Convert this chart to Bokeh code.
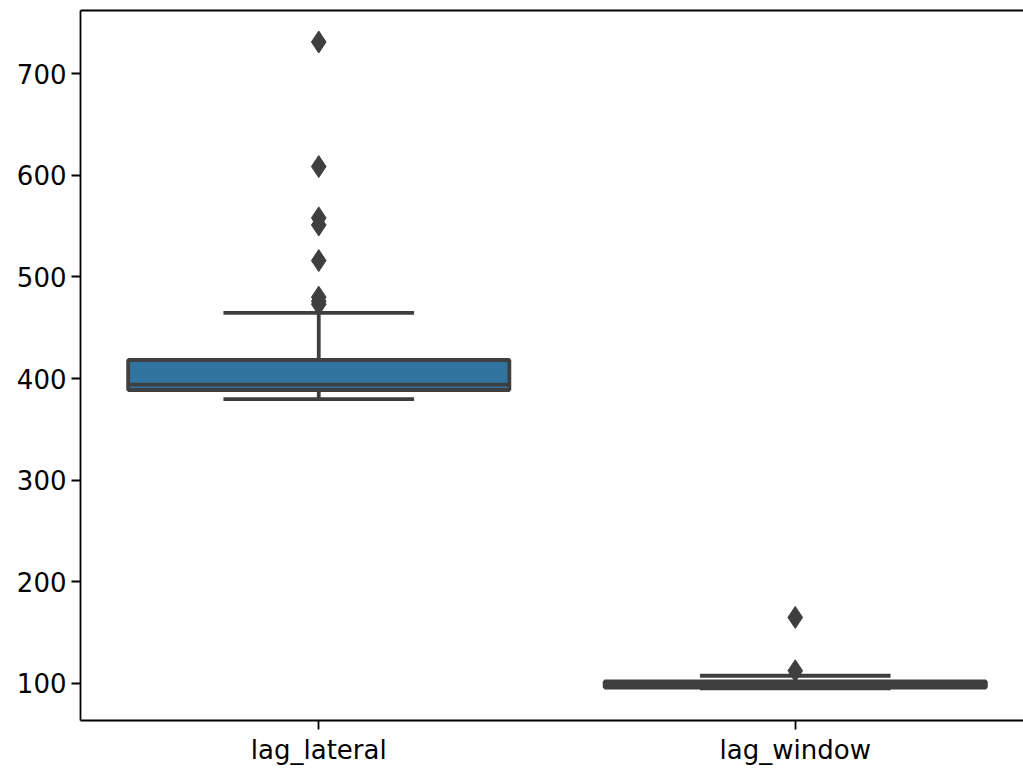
from bokeh.plotting import figure
from bokeh.models import Range1d, FixedTicker, ColumnDataSource, LinearAxis
from bokeh.embed import file_html
from bokeh.resources import INLINE

categories = ["lag_lateral", "lag_window"]
positions = [0, 1]
q1 = [388.7, 96.0]
median = [394.0, 99.0]
q3 = [418.2, 102.0]
whisker_low = [379.7, 95.3]
whisker_high = [464.6, 107.6]
fill_colors = ["#3274a1", "#e1812c"]
outliers_lateral = [731, 608.5, 558, 551, 516, 480, 476, 473]
outliers_window = [165, 112.5]

line_col = "#3f3f3f"
box_w = 0.8
cap_w = 0.4
lw = 3.8

p = figure(width=1023, height=772, output_backend="svg", toolbar_location=None,
           x_range=Range1d(-0.5, 1.479), y_range=Range1d(63.6, 762.0),
           min_border_left=80, min_border_right=0, min_border_top=10, min_border_bottom=52)
p.grid.visible = False
p.background_fill_color = "white"
p.border_fill_color = "white"
p.outline_line_color = None

src = ColumnDataSource(dict(
    x=positions,
    left=[x - box_w / 2 for x in positions],
    right=[x + box_w / 2 for x in positions],
    cl=[x - cap_w / 2 for x in positions],
    cr=[x + cap_w / 2 for x in positions],
    q1=q1, q3=q3, med=median, lo=whisker_low, hi=whisker_high, fill=fill_colors,
))

# whiskers
p.segment(x0="x", y0="q3", x1="x", y1="hi", source=src, line_color=line_col, line_width=lw)
p.segment(x0="x", y0="q1", x1="x", y1="lo", source=src, line_color=line_col, line_width=lw)
# caps
p.segment(x0="cl", y0="hi", x1="cr", y1="hi", source=src, line_color=line_col, line_width=lw)
p.segment(x0="cl", y0="lo", x1="cr", y1="lo", source=src, line_color=line_col, line_width=lw)
# boxes
p.quad(left="left", right="right", bottom="q1", top="q3", source=src,
       fill_color="fill", line_color=line_col, line_width=lw)
# medians
p.segment(x0="left", y0="med", x1="right", y1="med", source=src, line_color=line_col, line_width=lw)

# outliers
ox = [0] * len(outliers_lateral) + [1] * len(outliers_window)
oy = outliers_lateral + outliers_window
p.scatter(ox, oy, marker="diamond", size=22, fill_color=line_col, line_color=line_col)

# axes
xax = p.below[0]
yax = p.left[0]
xax.ticker = FixedTicker(ticks=positions)
xax.major_label_overrides = {0: categories[0], 1: categories[1]}
yax.ticker = FixedTicker(ticks=[100, 200, 300, 400, 500, 600, 700])
for ax in (xax, yax):
    ax.minor_tick_line_color = None
    ax.major_tick_in = 0
    ax.major_tick_out = 9
    ax.major_tick_line_width = 1.8
    ax.major_tick_line_color = "black"
    ax.axis_line_color = "black"
    ax.axis_line_width = 1.8
    ax.major_label_text_font = "DejaVu Sans"
    ax.major_label_text_font_size = "26px"
    ax.major_label_text_color = "black"
    ax.major_label_standoff = 5

# top spine (no ticks, no labels)
top = LinearAxis(ticker=FixedTicker(ticks=[]), major_tick_out=0, major_tick_in=0,
                 minor_tick_out=0, minor_tick_in=0, major_label_standoff=0,
                 major_tick_line_color=None, minor_tick_line_color=None,
                 axis_line_color="black", axis_line_width=1.8)
p.add_layout(top, "above")

open("out.html", "w").write(file_html(p, INLINE))
